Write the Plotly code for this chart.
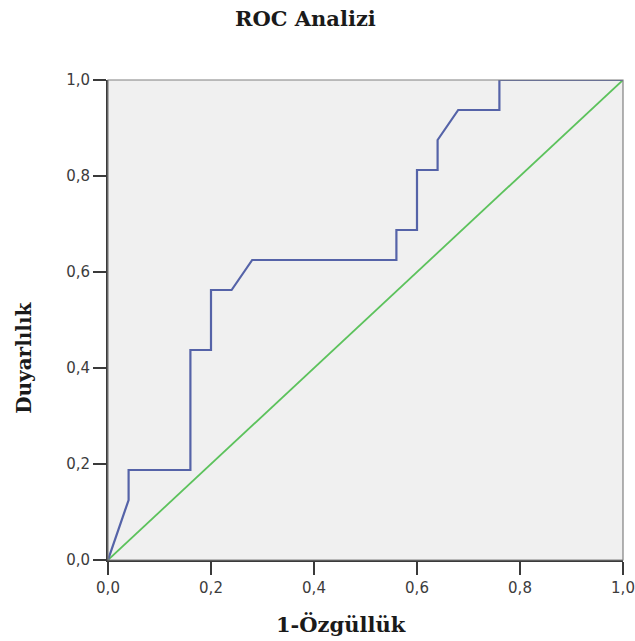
import plotly.graph_objects as go

# ROC curve data (1 - specificity, sensitivity)
fpr = [0.0, 0.04, 0.04, 0.16, 0.16, 0.20, 0.20, 0.24, 0.28, 0.56, 0.56, 0.60, 0.60, 0.64, 0.64, 0.68, 0.76, 0.76, 1.0]
tpr = [0.0, 0.125, 0.1875, 0.1875, 0.4375, 0.4375, 0.5625, 0.5625, 0.625, 0.625, 0.6875, 0.6875, 0.8125, 0.8125, 0.875, 0.9375, 0.9375, 1.0, 1.0]

ref_x = [0.0, 1.0]
ref_y = [0.0, 1.0]

tick_vals = [0.0, 0.2, 0.4, 0.6, 0.8, 1.0]
tick_text = ["0,0", "0,2", "0,4", "0,6", "0,8", "1,0"]

title_text = "ROC Analizi"
x_title = "1-Özgüllük"
y_title = "Duyarlılık"

W, H = 635, 641
L, R, T, B = 107.5, 11.5, 79.5, 81
pw = W - L - R
ph = H - T - B

fig = go.Figure()
fig.add_trace(go.Scatter(x=ref_x, y=ref_y, mode="lines",
                         line=dict(color="#5cc25c", width=1.8),
                         cliponaxis=False, hoverinfo="skip"))
fig.add_trace(go.Scatter(x=fpr, y=tpr, mode="lines",
                         line=dict(color="#5563a8", width=2.2),
                         cliponaxis=False))

axis_common = dict(
    range=[0, 1], tickvals=tick_vals, ticktext=tick_text,
    showgrid=False, zeroline=False, showline=True, automargin=False,
    linecolor="#3a3a3a", linewidth=2,
    ticks="outside", ticklen=13, tickwidth=2, tickcolor="#3a3a3a",
    tickfont=dict(family="DejaVu Sans", size=15, color="#3c3c3c"),
    fixedrange=True,
)

fig.update_layout(
    width=W, height=H, autosize=False,
    margin=dict(l=L, r=R, t=T, b=B, pad=0, autoexpand=False),
    paper_bgcolor="white",
    plot_bgcolor="#f0f0f0",
    showlegend=False,
    xaxis=dict(**axis_common),
    yaxis=dict(**axis_common),
    shapes=[dict(type="rect", xref="paper", yref="paper", x0=0, y0=0, x1=1, y1=1,
                 line=dict(color="#808080", width=1.2), layer="above")],
    annotations=[
        dict(text=f"<b>{title_text}</b>", xref="paper", yref="paper",
             x=(305 - L) / pw, y=(H - B - 18) / ph, xanchor="center", yanchor="middle",
             showarrow=False, font=dict(family="DejaVu Serif", size=21, color="#1a1a1a")),
        dict(text=f"<b>{x_title}</b>", xref="paper", yref="paper",
             x=(341 - L) / pw, y=(H - B - 625) / ph, xanchor="center", yanchor="middle",
             showarrow=False, font=dict(family="DejaVu Serif", size=21, color="#1a1a1a")),
        dict(text=f"<b>{y_title}</b>", xref="paper", yref="paper", textangle=-90,
             x=(24 - L) / pw, y=(H - B - 358) / ph, xanchor="center", yanchor="middle",
             showarrow=False, font=dict(family="DejaVu Serif", size=20, color="#1a1a1a")),
    ],
)

fig.write_html("out.html", config={"displayModeBar": False},
               post_script="document.body.style.margin='0';document.body.style.overflow='hidden';")
